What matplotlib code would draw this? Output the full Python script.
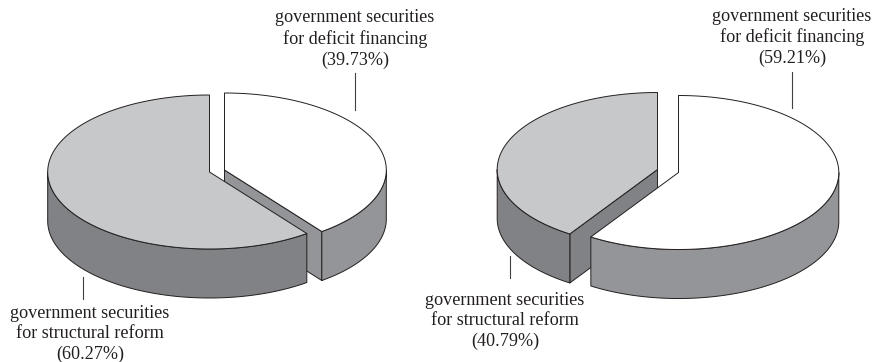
import numpy as np
import matplotlib
matplotlib.use("Agg")
import matplotlib.pyplot as plt
from matplotlib.patches import Polygon

#shares in percent
categories = ["government securities\nfor deficit financing",
              "government securities\nfor structural reform"]
left_shares = [39.73, 60.27]
right_shares = [59.21, 40.79]

#colours
LIGHT_TOP = "#c6c8ca"
LIGHT_SIDE = "#808285"
WHITE_TOP = "#ffffff"
WHITE_SIDE = "#939598"
EDGE = "#231f20"

RY = 77.0
DEPTH = 49.0
LW = 0.7


def arc(cx, cy, rx, a0, a1, drop=0.0):
    t = np.radians(np.linspace(a0, a1, 200))
    return np.column_stack([cx + rx * np.cos(t), cy - RY * np.sin(t) + drop])


def rim_point(cx, cy, rx, ang):
    t = np.radians(ang)
    return np.array([cx + rx * np.cos(t), cy - RY * np.sin(t)])


def draw_slice(ax, center, rx, a0, a1, top, side, cut_at=None):
    cx, cy = center
    apex = np.array([cx, cy])

    #flat face of the cut, only on the slice that shows it
    if cut_at is not None:
        rim = rim_point(cx, cy, rx, cut_at)
        ax.add_patch(Polygon([apex, rim, rim + [0, DEPTH], apex + [0, DEPTH]],
                             fc=side, ec=EDGE, lw=LW, joinstyle="round"))

    #outer wall, front half only
    s0, s1 = max(a0, 180), min(a1, 360)
    if s1 > s0:
        wall = np.vstack([arc(cx, cy, rx, s0, s1), arc(cx, cy, rx, s1, s0, DEPTH)])
        ax.add_patch(Polygon(wall, fc=side, ec=EDGE, lw=LW, joinstyle="round"))

    outline = np.vstack([apex, arc(cx, cy, rx, a0, a1)])
    ax.add_patch(Polygon(outline, fc=top, ec=EDGE, lw=LW, joinstyle="round"))


def draw_pie(ax, shares, gray_center, white_center, rx):
    #gray slice runs counter-clockwise from twelve o'clock, white takes the rest
    split = 90 + shares[1] * 3.6
    if split > 270:
        draw_slice(ax, white_center, rx, split, 450, WHITE_TOP, WHITE_SIDE, cut_at=split)
        draw_slice(ax, gray_center, rx, 90, split, LIGHT_TOP, LIGHT_SIDE)
    else:
        draw_slice(ax, gray_center, rx, 90, split, LIGHT_TOP, LIGHT_SIDE, cut_at=split)
        draw_slice(ax, white_center, rx, split, 450, WHITE_TOP, WHITE_SIDE)


def label(ax, x, y, name, share):
    ax.text(x, y, f"{name}\n({share:.2f}%)", ha="center", va="center",
            fontsize=13.1, color="#231f20", family="Liberation Serif",
            linespacing=1.26)


fig = plt.figure(figsize=(8.75, 3.62), dpi=100)
ax = fig.add_axes([0, 0, 1, 1])
ax.set_xlim(0, 875)
ax.set_ylim(362, 0)
ax.axis("off")

draw_pie(ax, left_shares, (209.5, 172.0), (224.5, 170.0), 161.8)
draw_pie(ax, right_shares, (657.5, 169.5), (678.5, 172.5), 160.3)

label(ax, 355, 39, categories[0], left_shares[0])
label(ax, 90, 334, categories[1], left_shares[1])
label(ax, 792, 37.5, categories[0], right_shares[0])
label(ax, 505, 321, categories[1], right_shares[1])

#leader lines
for x, y0, y1 in [(355, 73, 110), (82.5, 277, 299), (792, 72, 108), (509.5, 256, 278)]:
    ax.plot([x, x], [y0, y1], color="#414042", lw=0.8)

fig.savefig("out.png", dpi=100)
